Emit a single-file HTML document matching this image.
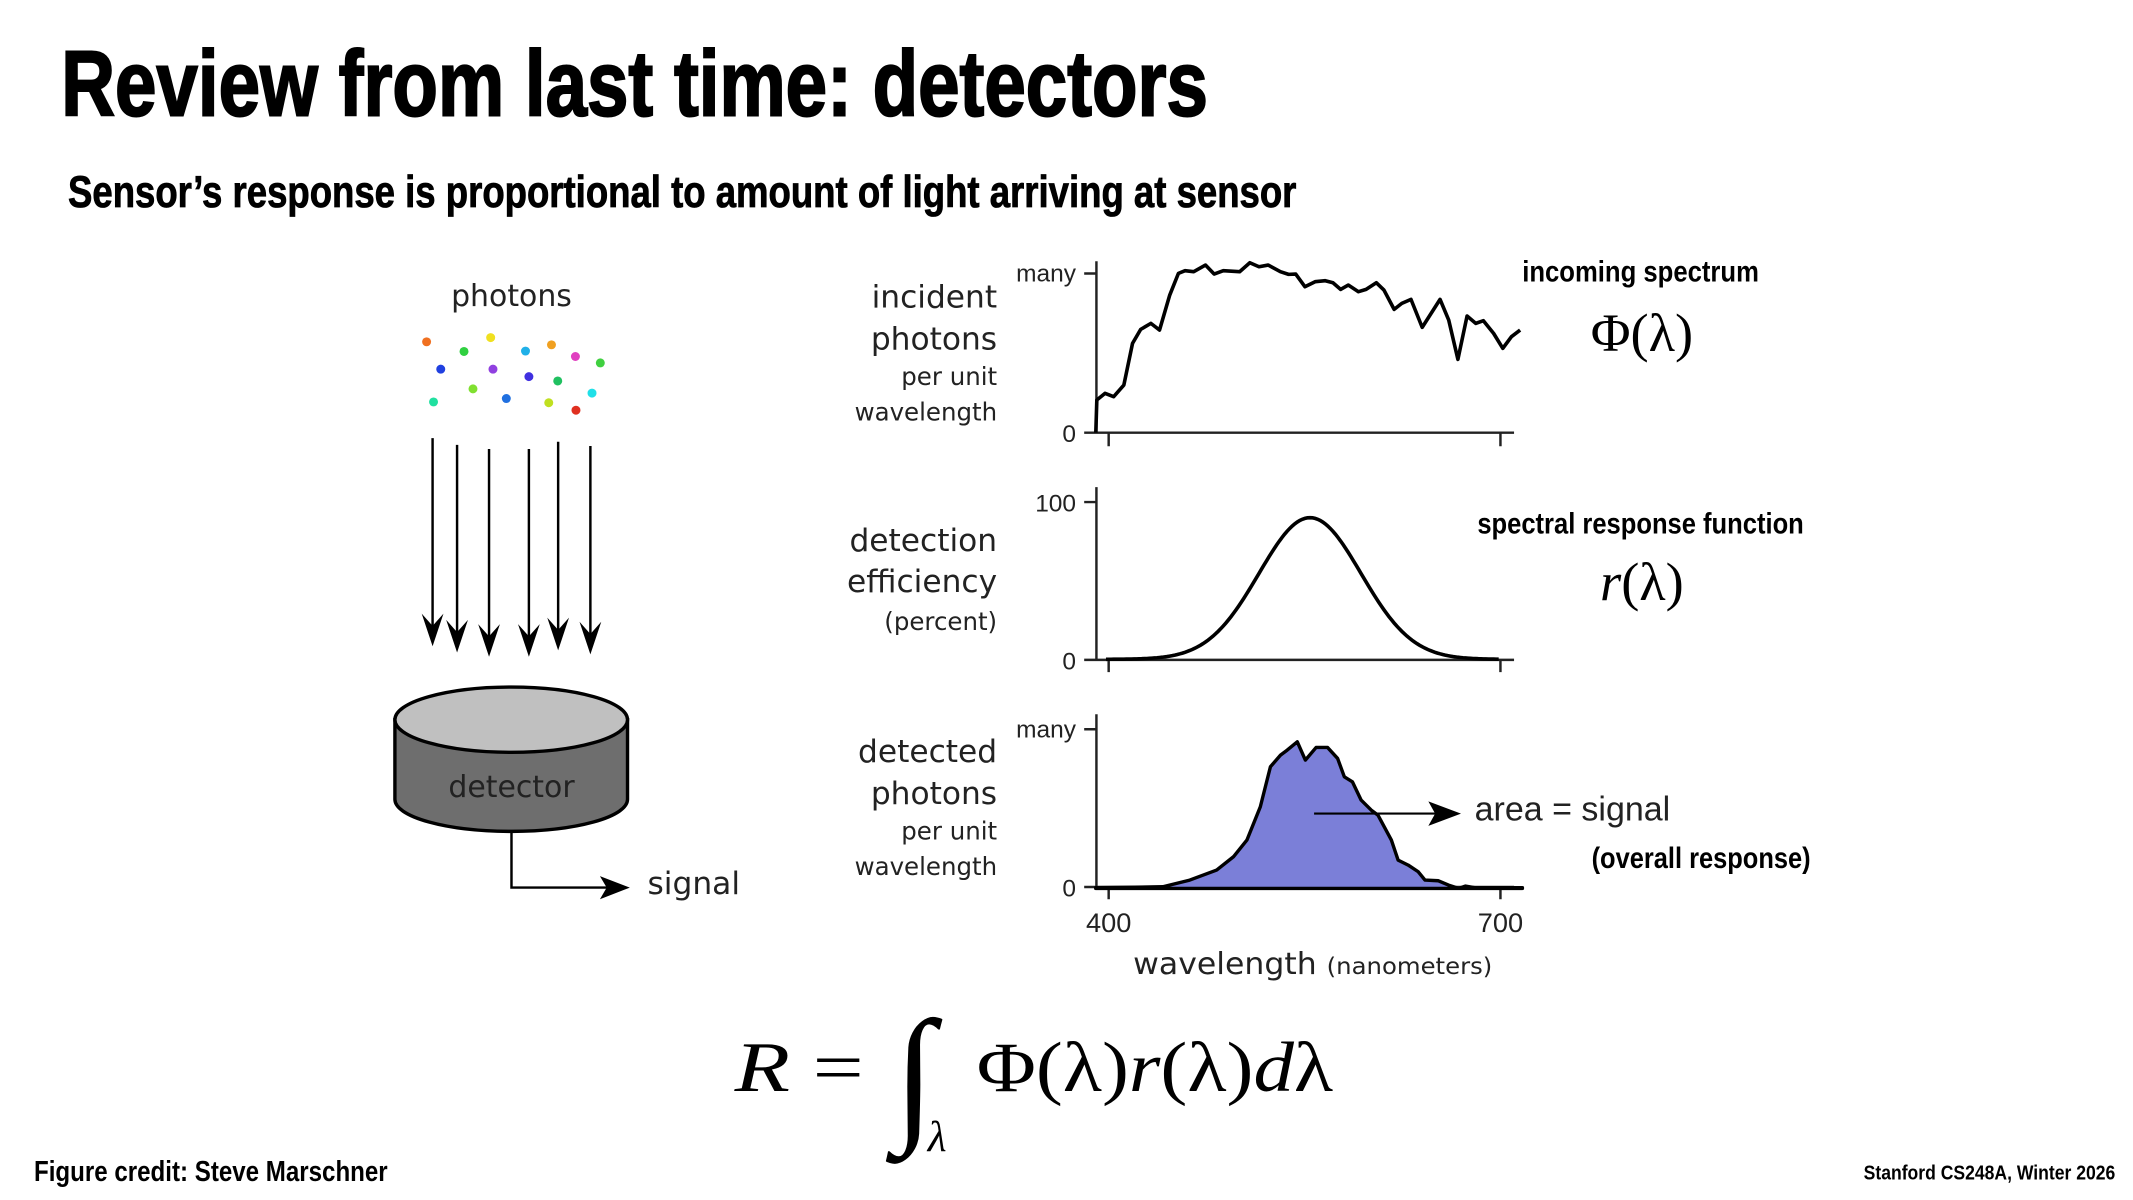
<!DOCTYPE html>
<html><head><meta charset="utf-8"><style>
html,body{margin:0;padding:0;background:#fff;}
svg{display:block;}
.c{font-family:"Liberation Sans Narrow","Liberation Sans",sans-serif;font-weight:bold;fill:#000;}
.g{font-family:"DejaVu Sans","Liberation Sans",sans-serif;fill:#222;}
.n{font-family:"Liberation Sans Narrow","Liberation Sans",sans-serif;fill:#222;}
.m{font-family:"Liberation Serif","DejaVu Serif",serif;fill:#000;}
</style></head><body>
<svg width="2133" height="1200" viewBox="0 0 1568 882" xmlns="http://www.w3.org/2000/svg">
<rect width="1568" height="882" fill="#fff"/>
<text class="c" x="45" y="85" font-size="68" textLength="843" lengthAdjust="spacingAndGlyphs" stroke="#000" stroke-width="1.5">Review from last time: detectors</text>
<text class="c" x="50" y="152" font-size="33" textLength="903" lengthAdjust="spacingAndGlyphs" stroke="#000" stroke-width="0.6">Sensor’s response is proportional to amount of light arriving at sensor</text>

<text class="g" x="376" y="225" font-size="22" text-anchor="middle">photons</text>
<g>
<circle cx="313.6" cy="251.2" r="3.3" fill="#f07020"/>
<circle cx="360.7" cy="248.1" r="3.3" fill="#f0e020"/>
<circle cx="341.1" cy="258.3" r="3.3" fill="#30d040"/>
<circle cx="386.3" cy="258" r="3.3" fill="#20b0e8"/>
<circle cx="405.4" cy="253.4" r="3.3" fill="#f0a020"/>
<circle cx="423" cy="262" r="3.3" fill="#e040c0"/>
<circle cx="441.3" cy="266.7" r="3.3" fill="#40d040"/>
<circle cx="324" cy="271.3" r="3.3" fill="#2040e0"/>
<circle cx="362.4" cy="271.3" r="3.3" fill="#9040e0"/>
<circle cx="388.8" cy="276.8" r="3.3" fill="#4030e0"/>
<circle cx="410" cy="280" r="3.3" fill="#20c060"/>
<circle cx="347.7" cy="285.8" r="3.3" fill="#80e030"/>
<circle cx="318.7" cy="295.4" r="3.3" fill="#20e0a0"/>
<circle cx="372.2" cy="292.9" r="3.3" fill="#2070e0"/>
<circle cx="403.4" cy="296" r="3.3" fill="#c0e020"/>
<circle cx="435.2" cy="288.9" r="3.3" fill="#20e0e8"/>
<circle cx="423.4" cy="301.5" r="3.3" fill="#e03020"/>
</g>
<g stroke="#000" stroke-width="1.8" fill="#000" id="arrows"></g>
<path d="M290.3,529 L290.3,587.6 A85.5,23.5 0 0 0 461.3,587.6 L461.3,529 Z" fill="#6e6e6e" stroke="#000" stroke-width="2.5"/>
<ellipse cx="375.8" cy="529" rx="85.5" ry="24" fill="#c0c0c0" stroke="#000" stroke-width="2.5"/>
<text class="g" x="376" y="586" font-size="22" text-anchor="middle" fill="#1a1a1a">detector</text>
<path d="M376,611 L376,652.4 L448,652.4" fill="none" stroke="#000" stroke-width="1.8"/>
<path d="M463,652.4 L441,644 L446,652.4 L441,661 Z" fill="#000"/>
<text class="g" x="476" y="657" font-size="23">signal</text>

<g class="g" text-anchor="end">
<text x="733" y="226" font-size="23">incident</text>
<text x="733" y="257" font-size="23">photons</text>
<text x="733" y="283" font-size="18">per unit</text>
<text x="733" y="309" font-size="18">wavelength</text>
<text x="733" y="405" font-size="23">detection</text>
<text x="733" y="435" font-size="23">efficiency</text>
<text x="733" y="463" font-size="18">(percent)</text>
<text x="733" y="560" font-size="23">detected</text>
<text x="733" y="591" font-size="23">photons</text>
<text x="733" y="617" font-size="18">per unit</text>
<text x="733" y="643" font-size="18">wavelength</text>
</g>
<g class="n" text-anchor="end" font-size="18">
<text x="791" y="207">many</text>
<text x="791" y="325">0</text>
<text x="791" y="376">100</text>
<text x="791" y="492">0</text>
<text x="791" y="542">many</text>
<text x="791" y="659">0</text>
</g>
<g stroke="#222" stroke-width="1.8" fill="none">
<path d="M806,192 V318 H1113 M815,318 V328 M1103,318 V328 M797,201 H806 M797,318 H806"/>
<path d="M806,358 V485 H1113 M815,485 V494 M1103,485 V494 M797,369 H806 M797,485 H806"/>
<path d="M806,525 V652 H1113 M815,652 V661 M1103,652 V661 M797,536 H806 M797,652 H806"/>
</g>
<g transform="translate(588.1,176.4) scale(0.3749,0.245)">
<polyline vector-effect="non-scaling-stroke" fill="none" stroke="#000" stroke-width="3.6" stroke-linejoin="round" points="580,578 582,480 598,460 615,470 635,435 652,310 668,268 688,250 705,270 725,165 742,100 755,92 772,95 795,75 812,102 830,92 862,95 882,68 900,80 918,75 942,95 958,103 972,102 990,140 1010,125 1030,122 1045,128 1060,148 1075,135 1095,155 1110,148 1130,128 1145,150 1165,208 1180,190 1198,178 1220,262 1255,178 1272,240 1290,358 1308,228 1325,250 1340,242 1360,280 1378,325 1395,290 1412,270"/>
<path id="gauss" vector-effect="non-scaling-stroke" fill="none" stroke="#000" stroke-width="3.6"/>
</g>
<g transform="translate(588.1,514.6) scale(0.494,0.245)">
<polygon vector-effect="non-scaling-stroke" fill="#7b7fd8" stroke="#000" stroke-width="3.4" stroke-linejoin="round" points="440,563 540,560 580,540 620,510 645,470 665,420 685,320 700,200 715,165 725,150 740,125 752,180 768,142 785,142 800,175 810,230 822,245 835,300 850,330 860,345 880,420 890,480 905,495 920,515 930,540 950,542 965,555 980,565 990,558 1005,563 1075,563 1075,565 440,565"/>
</g>
<path d="M966,598 H1056" stroke="#000" stroke-width="1.6"/>
<path d="M1074,598 L1050,589 L1055,598 L1050,607 Z" fill="#000"/>
<text class="n" x="1084" y="603" font-size="25">area = signal</text>
<text class="c" x="1170" y="638" font-size="22" textLength="161" lengthAdjust="spacingAndGlyphs">(overall response)</text>
<g class="n" font-size="20" text-anchor="middle">
<text x="815" y="685">400</text><text x="1103" y="685">700</text>
</g>
<text class="g" x="833" y="716" font-size="22" textLength="264" lengthAdjust="spacingAndGlyphs">wavelength <tspan font-size="17">(nanometers)</tspan></text>

<text class="c" x="1206" y="207" font-size="22" text-anchor="middle" textLength="174" lengthAdjust="spacingAndGlyphs">incoming spectrum</text>
<text class="m" x="1207" y="258" font-size="40" text-anchor="middle">Φ(λ)</text>
<text class="c" x="1206" y="392" font-size="22" text-anchor="middle" textLength="240" lengthAdjust="spacingAndGlyphs">spectral response function</text>
<text class="m" x="1207" y="441" font-size="40" text-anchor="middle"><tspan font-style="italic">r</tspan>(λ)</text>

<text class="m" x="540" y="802" font-size="52" textLength="95" lengthAdjust="spacingAndGlyphs"><tspan font-style="italic">R</tspan> =</text>
<text class="m" x="657" y="826" font-size="110" font-style="italic">∫</text>
<text class="m" x="682" y="846" font-size="32" font-style="italic">λ</text>
<text class="m" x="718" y="802" font-size="52" textLength="262" lengthAdjust="spacingAndGlyphs">Φ(λ)<tspan font-style="italic">r</tspan>(λ)<tspan font-style="italic">d</tspan>λ</text>

<text class="c" x="25" y="868" font-size="21" textLength="260" lengthAdjust="spacingAndGlyphs">Figure credit:  Steve Marschner</text>
<text class="c" x="1555" y="867" font-size="15" text-anchor="end" textLength="185" lengthAdjust="spacingAndGlyphs">Stanford CS248A, Winter 2026</text>
</svg>
<script>
var d="";for(var x=600;x<=1370;x+=5){var y=1258-425*Math.exp(-Math.pow((x-1000)/100,2)/2);d+=(x==600?"M":"L")+x+","+y.toFixed(1);}
document.getElementById("gauss").setAttribute("d",d);
var A=[[318,322,475],[336,327,479.6],[359.5,330,482.7],[388.8,330,482.7],[410.3,324.7,478],[434,327.8,481]];
var g=document.getElementById("arrows"),s="";
A.forEach(function(a){s+='<line x1="'+a[0]+'" y1="'+a[1]+'" x2="'+a[0]+'" y2="'+(a[2]-10)+'"/>';
s+='<path stroke="none" d="M'+a[0]+','+a[2]+' L'+(a[0]-8)+','+(a[2]-24)+' L'+a[0]+','+(a[2]-15)+' L'+(a[0]+8)+','+(a[2]-24)+' Z"/>';});
g.innerHTML=s;
</script>
</body></html>
